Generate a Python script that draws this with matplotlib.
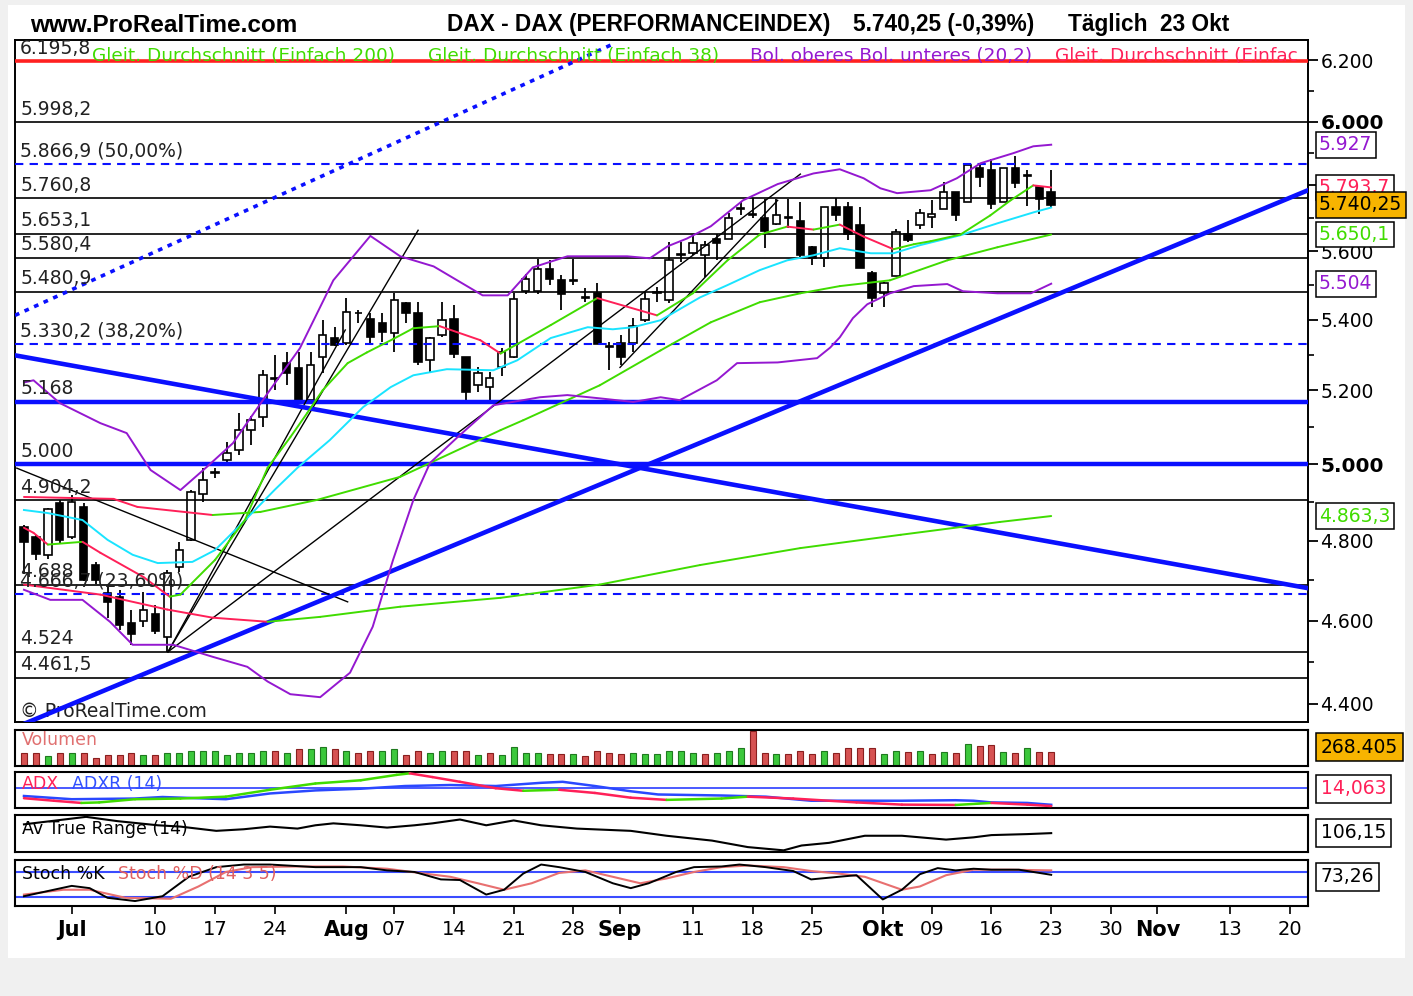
import numpy as np
import pandas as pd
import matplotlib
matplotlib.use('Agg')
import matplotlib.pyplot as plt
import matplotlib.transforms as mtrans
from matplotlib.patches import Rectangle
from matplotlib.ticker import FixedLocator, FixedFormatter, NullFormatter
from matplotlib import font_manager

avail = {f.name for f in font_manager.fontManager.ttflist}
def pick(*names):
    for n in names:
        if n in avail:
            return n
    return 'DejaVu Sans'
F_TXT = pick('DejaVu Sans')
F_TITLE = pick('Liberation Sans', 'Arial')
plt.rcParams['font.family'] = [F_TXT, 'DejaVu Sans']

# ---------------------------------------------------------------- data
dates = pd.bdate_range('2009-06-25', '2009-10-23')

opens = [4834, 4809, 4764, 4898, 4809, 4887, 4738, 4668, 4658, 4595,
         4598, 4617, 4560, 4733, 4802, 4920, 4976, 5011, 5037, 5091,
         5126, 5231, 5276, 5262, 5173, 5292, 5347, 5333, 5418, 5401,
         5390, 5361, 5447, 5418, 5284, 5355, 5401, 5292, 5214, 5209,
         5264, 5292, 5484, 5484, 5546, 5514, 5512, 5464, 5478, 5325,
         5333, 5333, 5398, 5476, 5456, 5590, 5596, 5590, 5636, 5636,
         5727, 5712, 5699, 5683, 5703, 5690, 5612, 5579, 5735, 5733,
         5680, 5535, 5478, 5526, 5653, 5680, 5703, 5727, 5780, 5748,
         5855, 5849, 5748, 5855, 5833, 5796, 5780]
highs = [4839, 4815, 4885, 4905, 4918, 4897, 4746, 4689, 4675, 4627,
         4671, 4639, 4725, 4796, 4931, 4990, 4990, 5058, 5137, 5130,
         5256, 5298, 5306, 5306, 5306, 5398, 5378, 5462, 5427, 5420,
         5418, 5478, 5450, 5450, 5350, 5450, 5442, 5292, 5264, 5250,
         5320, 5478, 5532, 5576, 5573, 5530, 5576, 5490, 5506, 5335,
         5355, 5404, 5481, 5495, 5629, 5627, 5653, 5630, 5653, 5715,
         5748, 5761, 5758, 5758, 5758, 5748, 5615, 5735, 5761, 5748,
         5733, 5540, 5510, 5668, 5693, 5727, 5754, 5810, 5780, 5864,
         5870, 5882, 5855, 5890, 5849, 5796, 5849]
lows = [4715, 4752, 4754, 4795, 4805, 4697, 4690, 4607, 4578, 4541,
        4583, 4568, 4524, 4720, 4800, 4900, 4963, 5005, 5024, 5050,
        5099, 5200, 5214, 5168, 5168, 5248, 5324, 5327, 5390, 5333,
        5336, 5306, 5390, 5270, 5248, 5350, 5290, 5173, 5195, 5168,
        5240, 5290, 5473, 5473, 5500, 5427, 5500, 5450, 5330, 5256,
        5270, 5306, 5392, 5450, 5447, 5567, 5590, 5523, 5573, 5636,
        5709, 5700, 5609, 5680, 5671, 5579, 5558, 5552, 5690, 5633,
        5550, 5436, 5436, 5526, 5627, 5668, 5671, 5727, 5690, 5748,
        5796, 5727, 5748, 5791, 5736, 5712, 5735]
closes = [4796, 4766, 4882, 4802, 4900, 4701, 4700, 4646, 4590, 4566,
          4627, 4575, 4718, 4776, 4925, 4958, 4979, 5029, 5091, 5118,
          5242, 5234, 5248, 5173, 5270, 5355, 5327, 5421, 5420, 5350,
          5364, 5456, 5418, 5278, 5347, 5398, 5303, 5195, 5248, 5234,
          5306, 5459, 5517, 5546, 5517, 5473, 5514, 5462, 5330, 5322,
          5292, 5381, 5459, 5479, 5573, 5593, 5624, 5618, 5624, 5699,
          5730, 5709, 5661, 5709, 5700, 5590, 5579, 5735, 5709, 5653,
          5550, 5462, 5506, 5659, 5633, 5715, 5712, 5780, 5709, 5864,
          5827, 5742, 5855, 5807, 5830, 5758, 5740.25]
volumes = [239, 239, 189, 239, 239, 239, 157, 201, 201, 239,
           201, 201, 239, 239, 283, 283, 283, 201, 239, 239,
           283, 283, 239, 314, 314, 346, 314, 283, 239, 283,
           283, 314, 201, 283, 239, 283, 283, 283, 201, 239,
           201, 346, 239, 239, 224, 224, 224, 192, 288, 243,
           224, 243, 224, 224, 288, 288, 243, 224, 243, 275,
           340, 660, 243, 224, 224, 288, 224, 288, 243, 327,
           340, 340, 224, 288, 262, 288, 224, 262, 243, 416,
           372, 391, 262, 243, 340, 262, 268.405]

# moving averages / bands (x = trading-day index, value = index points)
sma200_x = [0, 6.4, 12.0, 15.8, 20.4, 24.8, 31.5, 39.9, 48.2, 56.6, 65.0, 73.4, 81.7, 86]
sma200_y = [4689, 4664, 4627, 4607, 4597, 4609, 4634, 4656, 4689, 4738, 4781, 4815, 4848, 4863.3]
sma38_x = [0, 7.5, 9.5, 15.8, 19.8, 24.5, 31.5, 39.9, 41.8, 48.2, 53.3, 57.5, 61.6, 65.0,
           68.3, 72.5, 77.3, 81.5, 86]
sma38_y = [4913, 4908, 4887, 4866, 4874, 4905, 4966, 5091, 5118, 5214, 5312, 5392, 5450, 5476,
           5497, 5514, 5573, 5612, 5650.1]
sma_s_x = [0, 0.8, 2.0, 4.9, 6.4, 10.0, 12.2, 13.1, 16.0, 18.5, 20.4, 22.3, 23.7, 25.0,
           27.1, 28.7, 30.9, 32.6, 34.8, 38.2, 39.9, 44.1, 48.0, 53.0, 56.0, 58.9, 61.6,
           63.9, 66.1, 68.3, 70.3, 72.8, 74.5, 75.9, 78.4, 80.9, 82.6, 84.5, 86]
sma_s_y = [4833, 4820, 4790, 4797, 4769, 4708, 4659, 4664, 4751, 4853, 4990, 5072, 5137, 5200,
           5276, 5306, 5344, 5375, 5381, 5341, 5303, 5384, 5462, 5412, 5476, 5573, 5650,
           5674, 5665, 5680, 5644, 5606, 5621, 5630, 5650, 5708, 5754, 5800, 5793.7]
sma20_x = [0, 2.0, 4.9, 7.0, 9.1, 11.2, 14.1, 16.0, 18.3, 21.0, 22.9, 25.6, 28.4, 30.7,
           32.6, 35.4, 39.3, 41.3, 44.1, 47.2, 49.3, 51.0, 53.3, 56.6, 58.9, 61.6, 63.9,
           66.1, 68.3, 70.9, 72.8, 75.0, 78.4, 81.5, 84.5, 86]
sma20_y = [4879, 4871, 4853, 4802, 4764, 4743, 4746, 4776, 4846, 4932, 4990, 5064, 5154, 5209,
           5242, 5259, 5256, 5284, 5347, 5378, 5372, 5378, 5398, 5464, 5500, 5544, 5573,
           5588, 5609, 5594, 5594, 5618, 5648, 5684, 5717, 5732]
bb_up_x = [0, 0.8, 3.0, 6.4, 8.6, 10.6, 13.1, 15.3, 17.5, 20.4, 23.1, 25.9, 29.0, 31.5,
           34.3, 38.4, 40.5, 42.6, 45.5, 50.5, 52.4, 53.9, 55.5, 57.5, 60.2, 63.1, 66.1,
           68.3, 70.3, 71.7, 73.1, 75.9, 78.1, 80.1, 82.8, 84.5, 86]
bb_up_y = [5222, 5228, 5165, 5110, 5083, 4984, 4931, 4992, 5056, 5192, 5318, 5514, 5646, 5585,
           5555, 5470, 5470, 5552, 5585, 5585, 5579, 5615, 5638, 5675, 5754, 5804, 5837,
           5850, 5822, 5791, 5776, 5785, 5822, 5869, 5900, 5922, 5927]
bb_lo_x = [0, 2.2, 4.9, 7.2, 9.1, 12.5, 15.8, 18.7, 20.4, 22.3, 24.8, 27.3, 29.2, 30.9,
           32.6, 34.0, 36.3, 39.3, 43.2, 45.5, 48.2, 51.0, 53.3, 54.9, 58.0, 59.7, 63.1,
           66.4, 67.5, 68.3, 69.4, 70.6, 72.5, 74.5, 77.3, 78.6, 81.5, 84.3, 86]
bb_lo_y = [4676, 4651, 4651, 4597, 4541, 4541, 4512, 4488, 4453, 4423, 4416, 4474, 4585, 4751,
           4905, 5003, 5072, 5159, 5181, 5187, 5178, 5168, 5181, 5173, 5228, 5276, 5278,
           5290, 5320, 5349, 5404, 5444, 5476, 5497, 5503, 5482, 5476, 5476, 5504]

# horizontal levels
levels = [6195.8, 5998.2, 5866.9, 5760.8, 5653.1, 5580.4, 5480.9, 5330.2, 5168, 5000,
          4904.2, 4688, 4666.7, 4524, 4461.5]
level_labels = ['6.195,8', '5.998,2', '5.866,9 (50,00%)', '5.760,8', '5.653,1', '5.580,4',
                '5.480,9', '5.330,2 (38,20%)', '5.168', '5.000', '4.904,2', '4.688',
                '4.666,7 (23,60%)', '4.524', '4.461,5']
level_kind = ['red', 'k', 'dash', 'k', 'k', 'k', 'k', 'dash', 'blue', 'blue',
              'k', 'k', 'dash', 'k', 'k']

# drawn trend lines (start/end index, start/end value)
thin_lines = [([-0.6, 27.1], [4989, 4646]),
              ([12.06, 33.0], [4524, 5663]),
              ([12.06, 26.9], [4524, 5370]),
              ([12.06, 65.0], [4524, 5835]),
              ([49.9, 63.1], [5264, 5754])]
thick_lines = [([-0.75, 107.5], [4345, 5785]),
               ([-0.75, 107.5], [5298, 4680])]
dotted_line = ([-0.75, 49.4], [5412, 6255])

# indicators
adx_x = [0, 2.5, 4.8, 6.3, 9.3, 13.1, 16.9, 20.6, 24.4, 28.2, 31.2, 32.3, 34.2, 36.5, 39.5,
         41.8, 44.8, 47.8, 50.8, 53.8, 58.4, 60.6, 64.4, 69.7, 73.5, 78.0, 81.0, 84.0, 86]
adx_y = [18.7, 17.2, 15.9, 16.2, 18.1, 18.5, 19.6, 23.7, 27.4, 29.3, 32.5, 33.4, 31.2, 28.4, 24.6,
         23.1, 23.7, 21.8, 19.0, 17.7, 18.5, 19.6, 18.5, 16.2, 14.9, 14.7, 15.9, 14.9, 14.063]
adxr_x = [0, 4.0, 9.3, 11.6, 16.9, 20.6, 24.4, 28.2, 31.9, 35.7, 39.5, 43.3, 45.1, 47.8,
          50.8, 53.1, 58.4, 62.1, 65.9, 69.7, 73.5, 78.0, 79.5, 81.0, 84.0, 86]
adxr_y = [20.0, 18.1, 18.5, 19.4, 18.1, 21.5, 23.3, 24.3, 25.9, 26.5, 25.9, 27.8, 28.4, 25.9,
          22.8, 20.9, 20.3, 19.6, 17.2, 17.2, 17.2, 17.5, 17.2, 16.2, 15.9, 14.8]
atr_x = [0, 5.2, 7.8, 11.2, 13.1, 16.1, 18.4, 20.6, 22.9, 24.4, 25.9, 28.2, 30.4, 32.7, 34.2,
         36.5, 38.7, 41.0, 43.3, 46.3, 50.8, 53.8, 57.6, 60.6, 63.6, 65.1, 67.4, 70.4, 73.5,
         77.2, 79.5, 81.0, 84.0, 86]
atr_y = [119.4, 130.7, 124.3, 118.0, 116.0, 109.6, 112.0, 116.0, 113.0, 118.0, 120.9, 118.0,
         114.5, 118.0, 120.9, 126.7, 118.0, 125.3, 118.0, 113.0, 109.6, 102.2, 94.9, 85.1,
         80.2, 87.5, 91.5, 102.2, 102.2, 96.4, 99.8, 103.2, 104.7, 106.15]
stk_x = [0, 2.5, 4.0, 5.5, 7.0, 9.3, 11.6, 13.8, 16.1, 18.4, 20.6, 24.4, 28.2, 30.4, 32.7,
         34.9, 36.5, 38.7, 40.2, 41.8, 43.3, 44.8, 47.0, 49.3, 50.8, 52.3, 54.6, 56.1, 58.4,
         59.9, 62.1, 64.4, 65.9, 68.2, 69.7, 71.9, 73.5, 75.0, 76.5, 78.0, 79.5, 81.0, 83.3, 86]
stk_y = [22.3, 37.7, 46.9, 41.5, 18.5, 10.8, 22.3, 68.5, 91.5, 97.7, 97.7, 91.5, 91.5, 83.8, 80.0,
         62.3, 60.8, 26.2, 37.7, 76.2, 97.7, 91.5, 80.0, 53.1, 41.5, 53.1, 80.0, 91.5, 93.1,
         97.7, 91.5, 82.3, 62.3, 68.5, 72.3, 14.6, 37.7, 74.6, 89.2, 83.8, 87.7, 85.4, 85.4, 73.26]
std_x = [0, 3.3, 5.5, 8.5, 12.3, 14.6, 16.9, 19.1, 22.9, 26.7, 30.4, 33.5, 35.7, 38.0, 40.2,
         42.5, 44.8, 47.0, 49.3, 51.6, 53.8, 56.1, 58.4, 60.6, 63.6, 65.9, 68.2, 70.4, 73.5,
         75.0, 77.2, 79.5, 82.5, 86]
std_y = [26.2, 37.7, 37.7, 18.5, 16.2, 45.4, 80.0, 91.5, 93.1, 93.1, 87.7, 76.2, 68.5, 53.1, 37.7,
         53.1, 77.7, 83.8, 68.5, 53.1, 64.6, 80.0, 91.5, 95.4, 91.5, 82.3, 76.2, 68.5, 37.7,
         45.4, 72.3, 85.4, 85.4, 83.8]

tick_pos = [4, 11, 16, 21, 27, 31, 36, 41, 46, 49.9, 56, 61, 66, 71.9, 76, 81, 86, 91, 94.9, 101, 106]
tick_lab = ['Jul', '10', '17', '24', 'Aug', '07', '14', '21', '28', 'Sep', '11', '18', '25',
            'Okt', '09', '16', '23', '30', 'Nov', '13', '20']
month_lab = {'Jul', 'Aug', 'Sep', 'Okt', 'Nov'}

price_ticks = [4400, 4600, 4800, 5000, 5200, 5400, 5600, 5800, 6000, 6200]
price_tick_lab = ['4.400', '4.600', '4.800', '5.000', '5.200', '5.400', '5.600', '5.800', '6.000', '6.200']
price_minor = [4500, 4700, 4900, 5100, 5300, 5500, 5700, 5900, 6100]

# ---------------------------------------------------------------- styles
GREEN = '#40dc00'
RED = '#ff2058'
PURPLE = '#9418d0'
CYAN = '#1ae4ff'
BLUE = '#0a10ff'
W, H = 1413, 996
XL = (-0.75, 107.5)

fig = plt.figure(figsize=(W / 100, H / 100), dpi=100)
fig.patch.set_facecolor('white')
def fx(p): return p / W
def fy(p): return 1 - p / H
def axes_rect(x0, y0, x1, y1):
    return [fx(x0), fy(y1), fx(x1) - fx(x0), fy(y0) - fy(y1)]

for (a, b, cc, d) in [(0, 0, 8, 996), (0, 0, 1413, 5), (0, 958, 1413, 996), (1405, 0, 1413, 996)]:
    fig.add_artist(Rectangle((fx(a), fy(d)), fx(cc) - fx(a), fy(b) - fy(d),
                             transform=fig.transFigure, fc='#f0f0f0', ec='none', zorder=0))

def slope_line(ax, xs, ys, lw=1.4, z=4):
    for i in range(len(xs) - 1):
        col = GREEN if ys[i + 1] >= ys[i] else RED
        ax.plot(xs[i:i + 2], ys[i:i + 2], color=col, lw=lw, zorder=z, solid_capstyle='round')

# ---------------------------------------------------------------- main panel
ax = fig.add_axes(axes_rect(15, 40, 1308, 722))
ax.set_yscale('log')
ax.set_ylim(4358, 6267)
ax.set_xlim(*XL)
ax.set_xticks([])
for s in ax.spines.values():
    s.set_linewidth(1.4)

xi = np.arange(len(closes))
o = np.array(opens, float); hh = np.array(highs, float)
ll = np.array(lows, float); c = np.array(closes, float)
up = c >= o
ax.vlines(xi, ll, hh, color='black', lw=1.3, zorder=2)
blo = np.minimum(o, c); bhi = np.maximum(o, c)
bhi = np.where(bhi - blo < 1.5, blo + 1.5, bhi)
ax.bar(xi, bhi - blo, bottom=blo, width=0.62, color=np.where(up, 'white', 'black'),
       edgecolor='black', lw=1.2, zorder=2.5)

lab_tr = mtrans.blended_transform_factory(ax.transAxes, ax.transData)
for lev, lab, kind in zip(levels, level_labels, level_kind):
    if kind == 'red':
        ax.axhline(lev, color='#ff2020', lw=2.6, zorder=3)
    elif kind == 'k':
        ax.axhline(lev, color='black', lw=1.2, zorder=3)
    elif kind == 'dash':
        ax.axhline(lev, color=BLUE, lw=1.5, ls=(0, (4, 3)), zorder=3)
    else:
        ax.axhline(lev, color=BLUE, lw=3.2, zorder=3)
    ax.annotate(lab, xy=(0.004, lev), xycoords=lab_tr, xytext=(0, 2.5),
                textcoords='offset points', ha='left', va='bottom', fontsize=13.5,
                color='#222222', zorder=6)

for xs, ys in thin_lines:
    ax.plot(xs, ys, color='black', lw=1.0, zorder=3.2)
for xs, ys in thick_lines:
    ax.plot(xs, ys, color=BLUE, lw=3.3, zorder=3.4)
ax.plot(dotted_line[0], dotted_line[1], color=BLUE, lw=2.6, ls=(0, (1.3, 1.6)), zorder=3.4)

slope_line(ax, sma200_x, sma200_y)
slope_line(ax, sma38_x, sma38_y)
ax.plot(sma20_x, sma20_y, color=CYAN, lw=1.4, zorder=4)
ax.plot(bb_up_x, bb_up_y, color=PURPLE, lw=1.4, zorder=4)
ax.plot(bb_lo_x, bb_lo_y, color=PURPLE, lw=1.4, zorder=4)
slope_line(ax, sma_s_x, sma_s_y)

ax.yaxis.tick_right()
ax.yaxis.set_major_locator(FixedLocator(price_ticks))
ax.yaxis.set_major_formatter(FixedFormatter(price_tick_lab))
ax.yaxis.set_minor_locator(FixedLocator(price_minor))
ax.yaxis.set_minor_formatter(NullFormatter())
ax.tick_params(axis='y', which='major', direction='out', length=7, width=1.3, labelsize=13.5, pad=2)
ax.tick_params(axis='y', which='minor', direction='out', length=4, width=1.2)
for t in ax.get_yticklabels():
    if t.get_text() in ('6.000', '5.000'):
        t.set_fontweight('bold'); t.set_fontsize(14.5)

# legend row
def axx(px): return (px - 15) / 1293
for px, txt, col in [(92, 'Gleit. Durchschnitt (Einfach 200)', GREEN),
                     (428, 'Gleit. Durchschnitt (Einfach 38)', GREEN),
                     (750, 'Bol. oberes Bol. unteres (20,2)', PURPLE),
                     (1055, 'Gleit. Durchschnitt (Einfac', RED)]:
    ax.text(axx(px), 0.977, txt, transform=ax.transAxes, fontsize=13.3, color=col,
            va='center', ha='left', clip_on=True, zorder=7)
ax.text(axx(20), 0.016, '© ProRealTime.com', transform=ax.transAxes, fontsize=13.5,
        color='#222222', va='center')

# right value boxes
box_tr = mtrans.blended_transform_factory(ax.transAxes, ax.transData)
for val, txt, col, fc in [(5927, '5.927', PURPLE, 'white'),
                          (5793.7, '5.793,7', RED, 'white'),
                          (5650.1, '5.650,1', GREEN, 'white'),
                          (5504, '5.504', PURPLE, 'white'),
                          (4863.3, '4.863,3', GREEN, 'white'),
                          (5740.25, '5.740,25', 'black', '#f7b400')]:
    ax.text(1.0085, val, txt, transform=box_tr, ha='left', va='center', fontsize=13.5,
            color=col, clip_on=False, zorder=20,
            bbox=dict(boxstyle='square,pad=0.18', fc=fc, ec='black', lw=1.1))

# ---------------------------------------------------------------- title
fig.text(fx(30), fy(25), 'www.ProRealTime.com', fontsize=17.5, fontweight='bold',
         family=F_TITLE, va='center', ha='left')
fig.text(fx(447), fy(25), 'DAX - DAX (PERFORMANCEINDEX)', fontsize=16.3, fontweight='bold',
         family=F_TITLE, va='center', ha='left')
fig.text(fx(853), fy(25), '5.740,25 (-0,39%)', fontsize=16.3, fontweight='bold',
         family=F_TITLE, va='center', ha='left')
fig.text(fx(1068), fy(25), 'Täglich  23 Okt', fontsize=16.3, fontweight='bold',
         family=F_TITLE, va='center', ha='left')

# ---------------------------------------------------------------- sub panels
def sub(y0, y1):
    a = fig.add_axes(axes_rect(15, y0, 1308, y1))
    a.set_xlim(*XL)
    a.set_yticks([]); a.set_xticks([])
    for s in a.spines.values():
        s.set_linewidth(1.5)
    return a

axv = sub(730, 766)
vdir = np.r_[-1, np.diff(c)]
vfc = np.where(vdir >= 0, '#3cc83c', '#d65252')
vec = np.where(vdir >= 0, '#1f7a1f', '#8a1f1f')
axv.bar(xi, volumes, width=0.5, color=vfc, edgecolor=vec, lw=0.8, zorder=2)
axv.set_ylim(0, 672)
axv.text(axx(22), 0.72, 'Volumen', transform=axv.transAxes, fontsize=12.5, color='#e07070', va='center')

axa = sub(772, 808)
axa.set_ylim(12.9, 34.2)
axa.axhline(25, color='#3a4cff', lw=1.3, zorder=1)
axa.plot(adxr_x, adxr_y, color='#2a48ff', lw=1.8, zorder=2)
slope_line(axa, adx_x, adx_y, lw=1.8, z=3)
axa.text(axx(22), 0.66, 'ADX', transform=axa.transAxes, fontsize=12.5, color=RED, va='center')
axa.text(axx(72), 0.66, 'ADXR (14)', transform=axa.transAxes, fontsize=12.5, color='#3050ff', va='center')

axt = sub(815, 852)
axt.set_ylim(77.7, 133.5)
axt.plot(atr_x, atr_y, color='black', lw=1.5, zorder=2)
axt.text(axx(22), 0.62, 'Av True Range (14)', transform=axt.transAxes, fontsize=12.5, color='black', va='center')

axs = sub(860, 906)
axs.set_ylim(-1, 108.5)
axs.axhline(80, color='#3a4cff', lw=1.5, zorder=1)
axs.axhline(20, color='#3a4cff', lw=1.5, zorder=1)
axs.plot(std_x, std_y, color='#e87070', lw=1.5, zorder=2)
axs.plot(stk_x, stk_y, color='black', lw=1.4, zorder=3)
axs.text(axx(22), 0.7, 'Stoch %K', transform=axs.transAxes, fontsize=12.5, color='black', va='center')
axs.text(axx(118), 0.7, 'Stoch %D (14 3 5)', transform=axs.transAxes, fontsize=12.5, color='#e06060', va='center')
axs.set_xticks(tick_pos)
axs.set_xticklabels(tick_lab)
axs.tick_params(axis='x', direction='out', length=6, width=1.2, pad=4, labelsize=14)
for t in axs.get_xticklabels():
    if t.get_text() in month_lab:
        t.set_fontweight('bold'); t.set_fontsize(15)

for ytxt, txt, col, fc in [(747, '268.405', 'black', '#f7b400'),
                           (789, '14,063', RED, 'white'),
                           (833, '106,15', 'black', 'white'),
                           (877, '73,26', 'black', 'white')]:
    fig.text(fx(1321), fy(ytxt), txt, ha='left', va='center', fontsize=13.5, color=col,
             bbox=dict(boxstyle='square,pad=0.25', fc=fc, ec='black', lw=1.1), zorder=20)

fig.savefig('out.png', dpi=100, facecolor=fig.get_facecolor())
